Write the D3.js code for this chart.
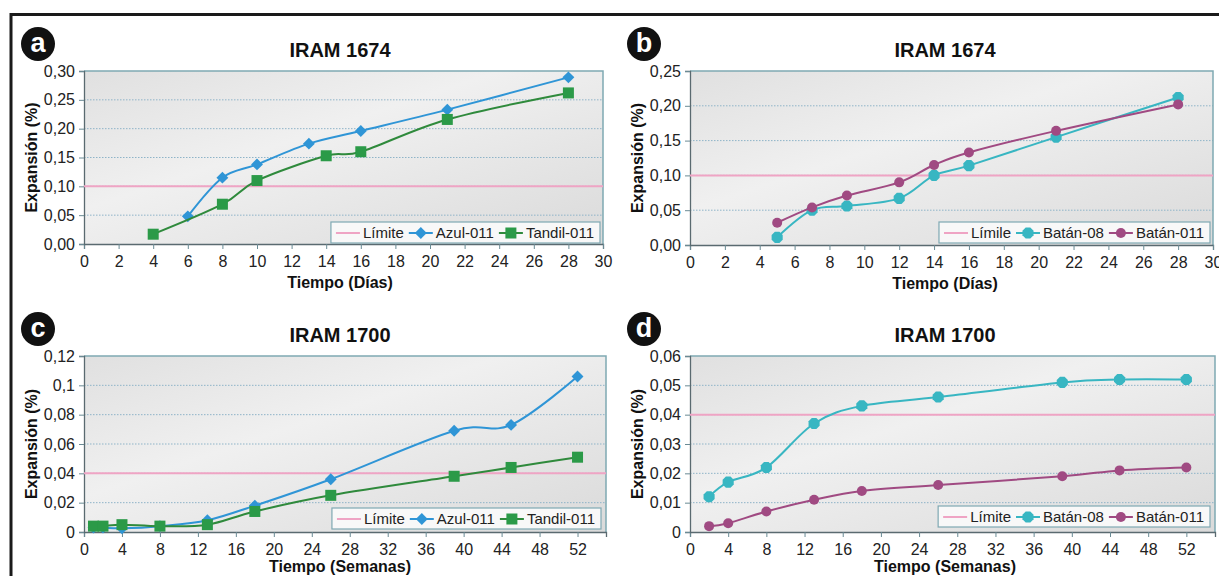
<!DOCTYPE html>
<html>
<head>
<meta charset="utf-8">
<script src="https://cdn.jsdelivr.net/npm/d3@7"></script>
<style>
  body { margin: 0; background: #fff; }
  svg { display: block; font-family: Arial, "Liberation Sans", sans-serif; }
</style>
</head>
<body>
<svg id="chart" width="1219" height="576"></svg>
<script>
// --- data ---
const diasAzul = [6, 8, 10, 13, 16, 21, 28];
const expAzul1674 = [0.048, 0.115, 0.138, 0.174, 0.196, 0.233, 0.289];
const diasTandil = [4, 8, 10, 14, 16, 21, 28];
const expTandil1674 = [0.017, 0.069, 0.110, 0.153, 0.160, 0.216, 0.262];

const diasBatan = [5, 7, 9, 12, 14, 16, 21, 28];
const expBatan08_1674 = [0.011, 0.050, 0.056, 0.067, 0.100, 0.114, 0.155, 0.212];
const expBatan011_1674 = [0.032, 0.054, 0.071, 0.090, 0.115, 0.133, 0.164, 0.202];

const semanasC = [1, 2, 4, 8, 13, 18, 26, 39, 45, 52];
const expAzul1700 = [0.003, 0.003, 0.0025, 0.004, 0.008, 0.018, 0.036, 0.069, 0.073, 0.106];
const expTandil1700 = [0.004, 0.004, 0.005, 0.004, 0.005, 0.014, 0.025, 0.038, 0.044, 0.051];

const semanasD = [2, 4, 8, 13, 18, 26, 39, 45, 52];
const expBatan08_1700 = [0.012, 0.017, 0.022, 0.037, 0.043, 0.046, 0.051, 0.052, 0.052];
const expBatan011_1700 = [0.002, 0.003, 0.007, 0.011, 0.014, 0.016, 0.019, 0.021, 0.022];

const ticksDias = d3.range(0, 31, 2);
const ticksSemanas = d3.range(0, 53, 4);
const yTicksA = ["0,00", "0,05", "0,10", "0,15", "0,20", "0,25", "0,30"];
const yTicksB = ["0,00", "0,05", "0,10", "0,15", "0,20", "0,25"];
const yTicksC = ["0", "0,02", "0,04", "0,06", "0,08", "0,1", "0,12"];
const yTicksD = ["0", "0,01", "0,02", "0,03", "0,04", "0,05", "0,06"];

const colors = {
  limite: "#efa4c4",
  azul: "#2f95d6",
  tandil: "#2b9a48",
  tandilLine: "#2f8a3c",
  batan08: "#38b6c2",
  batan011: "#a04a82"
};

const toPts = (xs, ys) => xs.map((x, i) => ({ x, y: ys[i] }));

const panels = [
  {
    letter: "a", title: "IRAM 1674", xTitle: "Tiempo (Días)",
    x: [84, 603], y: [244, 71], xMax: 30, yMax: 0.30, yStep: 0.05,
    xTicks: ticksDias, yLabels: yTicksA, limite: 0.10, limLabel: "Límite",
    legendRight: 600, legendTop: 222,
    series: [
      { name: "Azul-011", pts: toPts(diasAzul, expAzul1674), color: colors.azul, line: colors.azul, shape: "diamond" },
      { name: "Tandil-011", pts: toPts(diasTandil, expTandil1674), color: colors.tandil, line: colors.tandilLine, shape: "square" }
    ]
  },
  {
    letter: "b", title: "IRAM 1674", xTitle: "Tiempo (Días)",
    x: [690, 1213], y: [245, 71], xMax: 30, yMax: 0.25, yStep: 0.05,
    xTicks: ticksDias, yLabels: yTicksB, limite: 0.10, limLabel: "Límile",
    legendRight: 1210, legendTop: 222,
    series: [
      { name: "Batán-08", pts: toPts(diasBatan, expBatan08_1674), color: colors.batan08, line: colors.batan08, shape: "hex" },
      { name: "Batán-011", pts: toPts(diasBatan, expBatan011_1674), color: colors.batan011, line: colors.batan011, shape: "circle" }
    ]
  },
  {
    letter: "c", title: "IRAM 1700", xTitle: "Tiempo (Semanas)",
    x: [84, 606], y: [532, 356], xMax: 55, yMax: 0.12, yStep: 0.02,
    xTicks: ticksSemanas, yLabels: yTicksC, limite: 0.04, limLabel: "Límite",
    legendRight: 601, legendTop: 508,
    series: [
      { name: "Azul-011", pts: toPts(semanasC, expAzul1700), color: colors.azul, line: colors.azul, shape: "diamond" },
      { name: "Tandil-011", pts: toPts(semanasC, expTandil1700), color: colors.tandil, line: colors.tandilLine, shape: "square" }
    ]
  },
  {
    letter: "d", title: "IRAM 1700", xTitle: "Tiempo (Semanas)",
    x: [690, 1215], y: [532, 356], xMax: 55, yMax: 0.06, yStep: 0.01,
    xTicks: ticksSemanas, yLabels: yTicksD, limite: 0.04, limLabel: "Límite",
    legendRight: 1210, legendTop: 506,
    series: [
      { name: "Batán-08", pts: toPts(semanasD, expBatan08_1700), color: colors.batan08, line: colors.batan08, shape: "hex" },
      { name: "Batán-011", pts: toPts(semanasD, expBatan011_1700), color: colors.batan011, line: colors.batan011, shape: "circle" }
    ]
  }
];

const svg = d3.select("#chart");

// plot area gradient
const defs = svg.append("defs");
const grad = defs.append("linearGradient").attr("id", "plotBg")
  .attr("x1", "0%").attr("y1", "0%").attr("x2", "100%").attr("y2", "100%");
[["0%", "#e0e0e0"], ["40%", "#f0f0f0"], ["100%", "#dadada"]].forEach(([o, c]) =>
  grad.append("stop").attr("offset", o).attr("stop-color", c));

// outer frame (top + left only)
svg.append("path")
  .attr("d", "M11,576 V14.5 H1219")
  .attr("fill", "none").attr("stroke", "#1a1a1a").attr("stroke-width", 3);

const hexPath = (r) => {
  const p = d3.range(8).map(i => {
    const a = Math.PI / 8 + i * Math.PI / 4;
    return [r * Math.cos(a), r * Math.sin(a)];
  });
  return "M" + p.join("L") + "Z";
};

const drawMarker = (g, shape, color, cx, cy) => {
  if (shape === "diamond") {
    g.append("path").attr("d", d3.symbol(d3.symbolDiamond2, 90)())
      .attr("transform", `translate(${cx},${cy})`).attr("fill", color);
  } else if (shape === "square") {
    g.append("rect").attr("x", cx - 5.5).attr("y", cy - 5.5).attr("width", 11).attr("height", 11)
      .attr("fill", color);
  } else if (shape === "hex") {
    g.append("path").attr("d", hexPath(6))
      .attr("transform", `translate(${cx},${cy})`).attr("fill", color);
  } else {
    g.append("circle").attr("cx", cx).attr("cy", cy).attr("r", 5).attr("fill", color);
  }
};

const FONT = "Arial, 'Liberation Sans', sans-serif";

panels.forEach(p => {
  const x = d3.scaleLinear().domain([0, p.xMax]).range(p.x);
  const y = d3.scaleLinear().domain([0, p.yMax]).range(p.y);
  const g = svg.append("g");
  const midX = p.letter === "a" || p.letter === "c" ? 340 : 945;

  // letter badge
  const bx = p.x[0] - 46, by = p.y[1] - 27;
  g.append("circle").attr("cx", bx).attr("cy", by).attr("r", 17).attr("fill", "#111");
  g.append("text").attr("x", bx).attr("y", by + 8).attr("text-anchor", "middle")
    .attr("font-size", 27).attr("font-weight", "bold").attr("fill", "#fff").text(p.letter);

  // title
  g.append("text").attr("x", midX).attr("y", p.y[1] - 14).attr("text-anchor", "middle")
    .attr("font-size", 20).attr("font-weight", "bold").attr("fill", "#111").text(p.title);

  // background
  g.append("rect").attr("x", p.x[0]).attr("y", p.y[1])
    .attr("width", p.x[1] - p.x[0]).attr("height", p.y[0] - p.y[1])
    .attr("fill", "url(#plotBg)");

  // grid lines
  const yVals = d3.range(p.yLabels.length).map(i => +(i * p.yStep).toFixed(4));
  g.selectAll(".grid").data(yVals.slice(1, -1)).enter().append("line")
    .attr("x1", p.x[0]).attr("x2", p.x[1])
    .attr("y1", d => y(d)).attr("y2", d => y(d))
    .attr("stroke", "#8fb4c8").attr("stroke-width", 1).attr("stroke-dasharray", "1.5,1.5");

  // top/right border
  g.append("path")
    .attr("d", `M${p.x[0]},${p.y[1]}H${p.x[1]}V${p.y[0]}`)
    .attr("fill", "none").attr("stroke", "#7fa9b3").attr("stroke-width", 1.5);

  // axes
  const xAxis = d3.axisBottom(x).tickValues(p.xTicks).tickSize(5).tickPadding(7)
    .tickFormat(d => d);
  const gx = g.append("g").attr("transform", `translate(0,${p.y[0]})`).call(xAxis);
  gx.select(".domain").attr("stroke", "#5a6a70").attr("stroke-width", 1.3);
  gx.selectAll(".tick line").attr("stroke", "#6a8a94");
  gx.selectAll("text").attr("font-size", 16).attr("fill", "#222").attr("font-family", FONT);

  const yAxis = d3.axisLeft(y).tickValues(yVals).tickSize(5).tickPadding(4)
    .tickFormat((d, i) => p.yLabels[i]);
  const gy = g.append("g").attr("transform", `translate(${p.x[0]},0)`).call(yAxis);
  gy.select(".domain").attr("stroke", "#5a6a70").attr("stroke-width", 1.3);
  gy.selectAll(".tick line").attr("stroke", "#6a8a94");
  gy.selectAll("text").attr("font-size", 16).attr("fill", "#222").attr("font-family", FONT);

  // axis titles
  const xtY = p.letter === "c" || p.letter === "d" ? 572 : p.y[0] + 44;
  g.append("text").attr("x", midX).attr("y", xtY).attr("text-anchor", "middle")
    .attr("font-size", 16).attr("font-weight", "bold").attr("fill", "#111").text(p.xTitle);
  const yt = (p.y[0] + p.y[1]) / 2;
  g.append("text").attr("transform", `translate(${p.x[0] - 53},${yt}) rotate(-90)`)
    .attr("text-anchor", "middle").attr("dy", "0.35em")
    .attr("font-size", 16).attr("font-weight", "bold").attr("fill", "#111").text("Expansión (%)");

  // limit line
  g.append("line").attr("x1", p.x[0]).attr("x2", p.x[1])
    .attr("y1", y(p.limite)).attr("y2", y(p.limite))
    .attr("stroke", colors.limite).attr("stroke-width", 2);

  // series
  const line = d3.line().x(d => x(d.x)).y(d => y(d.y)).curve(d3.curveCardinal.tension(0));
  p.series.forEach(s => {
    g.append("path").datum(s.pts).attr("d", line)
      .attr("fill", "none").attr("stroke", s.line).attr("stroke-width", 2);
    s.pts.forEach(d => drawMarker(g, s.shape, s.color, x(d.x), y(d.y)));
  });

  // legend (laid out from measured text, right-aligned)
  const lg = g.append("g");
  const box = lg.append("rect");
  const items = [{ name: p.limLabel, color: colors.limite, line: colors.limite, shape: null }]
    .concat(p.series);
  const ly = p.legendTop + 11;
  let cx = 0;
  const content = lg.append("g");
  items.forEach(it => {
    content.append("line").attr("x1", cx).attr("x2", cx + 24).attr("y1", ly).attr("y2", ly)
      .attr("stroke", it.line).attr("stroke-width", 2);
    if (it.shape) drawMarker(content, it.shape, it.color, cx + 12, ly);
    const t = content.append("text").attr("x", cx + 27).attr("y", ly).attr("dy", "0.35em")
      .attr("font-size", 15).attr("fill", "#222").text(it.name);
    cx += 27 + t.node().getComputedTextLength() + 5;
  });
  const w = cx + 6;
  const left = p.legendRight - w;
  content.attr("transform", `translate(${left + 5},0)`);
  box.attr("x", left).attr("y", p.legendTop).attr("width", w).attr("height", 21)
    .attr("fill", "#f8f8f8").attr("stroke", "#7fa9b3").attr("stroke-width", 1.2);
});
</script>
</body>
</html>
